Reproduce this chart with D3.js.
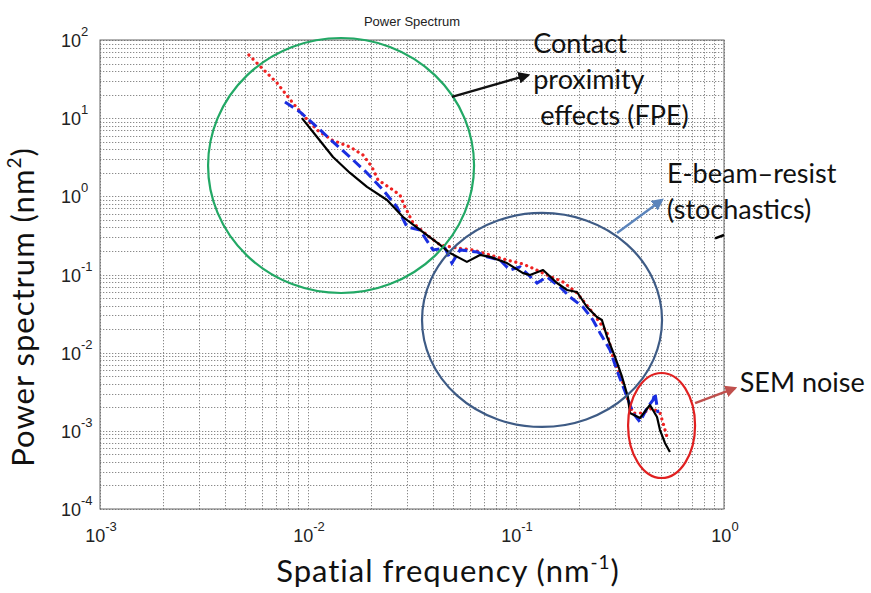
<!DOCTYPE html>
<html lang="en">
<head>
<meta charset="UTF-8">
<title>Power Spectrum</title>
<script src="https://d3js.org/d3.v7.min.js"></script>
<style>
    body { margin: 0; background: white; }
    svg { display: block; }
    .tick-label { font-family: Arial, "Liberation Sans", sans-serif; fill: #222; }
    .big { font-family: Lato, "Open Sans", sans-serif; fill: #111; }
</style>
</head>
<body>
<div id="chart"></div>
<script>
// values: [spatial frequency (1/nm), power (nm^2)]
const redSeries = [
    [0.0052, 64.3], [0.0060, 43.8], [0.0071, 28.2], [0.00838, 16.1], [0.00946, 11.0],
    [0.01105, 7.06], [0.01304, 5.26], [0.01592, 4.28], [0.01837, 3.38], [0.02031, 2.37],
    [0.02171, 1.62], [0.02479, 1.28], [0.02768, 1.04], [0.02927, 0.731], [0.03199, 0.456],
    [0.03733, 0.320], [0.04315, 0.239], [0.0520, 0.218], [0.0621, 0.206], [0.0750, 0.178],
    [0.0905, 0.153], [0.1045, 0.140], [0.1167, 0.125], [0.1409, 0.0986], [0.1683, 0.0802],
    [0.1964, 0.0580], [0.2344, 0.0322], [0.2741, 0.0179], [0.2924, 0.00881], [0.3236, 0.00448],
    [0.3451, 0.00248], [0.3655, 0.00169], [0.4083, 0.00169], [0.4508, 0.00196], [0.4920, 0.00169],
    [0.5093, 0.00126], [0.5321, 0.000834]
];
const blueSeries = [
    [0.00775, 16.1], [0.00915, 12.0], [0.01105, 7.71], [0.01319, 4.96], [0.01592, 3.18],
    [0.01922, 1.99], [0.02294, 1.21], [0.02679, 0.731], [0.02992, 0.406], [0.03454, 0.371],
    [0.0399, 0.206], [0.0456, 0.218], [0.0492, 0.140], [0.0538, 0.206], [0.0650, 0.194],
    [0.0726, 0.168], [0.0838, 0.153], [0.0935, 0.114], [0.1045, 0.125], [0.1262, 0.0778],
    [0.1409, 0.0929], [0.1628, 0.0692], [0.1820, 0.0515], [0.2099, 0.0384], [0.2344, 0.0262],
    [0.2535, 0.0179], [0.2831, 0.0108], [0.3090, 0.00550], [0.3420, 0.00271], [0.3655, 0.00169],
    [0.3945, 0.00130], [0.4266, 0.00196], [0.4560, 0.00248], [0.4656, 0.00305], [0.4819, 0.00169]
];
const blackSeries = [
    [0.00935, 10.0], [0.01105, 5.74], [0.01319, 3.18], [0.01592, 1.99], [0.01922, 1.32],
    [0.02399, 0.898], [0.02864, 0.544], [0.03454, 0.371], [0.04315, 0.239], [0.04819, 0.188],
    [0.05808, 0.145], [0.06714, 0.178], [0.0750, 0.168], [0.0905, 0.140], [0.1081, 0.104],
    [0.1167, 0.0986], [0.1349, 0.114], [0.1574, 0.0778], [0.1758, 0.0634], [0.1964, 0.0597],
    [0.2193, 0.0384], [0.2449, 0.0286], [0.2588, 0.0262], [0.2741, 0.0159], [0.2992, 0.00881],
    [0.3236, 0.00489], [0.3451, 0.00271], [0.3532, 0.00169], [0.3945, 0.00146], [0.4406, 0.00214],
    [0.4764, 0.00150], [0.4920, 0.00103], [0.5200, 0.000700], [0.5495, 0.000536]
];
const xDecades = [-3, -2, -1, 0];
const yDecades = [-4, -3, -2, -1, 0, 1, 2];

// annotation ellipses: centre in data units, radii in px
const ellipses = [
    { cx: 0.01442, cy: 2.48, rx: 133, ry: 127.5, color: "#22a865" },
    { cx: 0.1334, cy: 0.0262, rx: 120, ry: 107, color: "#3e5b85" },
    { cx: 0.501, cy: 0.00117, rx: 33.5, ry: 52.5, color: "#e02020" }
];
const arrows = [
    { from: [0.0492, 18.7], to: [0.1143, 35.6], color: "#111" },
    { from: [0.306, 0.340], to: [0.503, 0.898], color: "#5b84bb" },
    { from: [0.726, 0.00227], to: [1.13, 0.00353], color: "#c0504d" }
];
const notes = [
    { x: 0.121, y: 68, lines: ["Contact", "proximity", " effects (FPE)"] },
    { x: 0.532, y: 1.48, lines: ["E-beam\u2013resist", "(stochastics)"] },
    { x: 1.19, y: 0.00314, lines: ["SEM noise"] }
];

const width = 871, height = 593;
const margin = { top: 40, right: 147, bottom: 84, left: 100 };

const svg = d3.select("#chart").append("svg")
    .attr("width", width)
    .attr("height", height);

const x = d3.scaleLog().domain([1e-3, 1]).range([margin.left, width - margin.right]);
const y = d3.scaleLog().domain([1e-4, 1e2]).range([height - margin.bottom, margin.top]);

// grid (major + minor, dotted like matlab)
const xMinor = [], yMinor = [];
xDecades.slice(0, -1).forEach(e => { for (let k = 2; k <= 9; k++) xMinor.push(k * Math.pow(10, e)); });
yDecades.slice(0, -1).forEach(e => { for (let k = 2; k <= 9; k++) yMinor.push(k * Math.pow(10, e)); });
const xAll = xDecades.map(e => Math.pow(10, e)).concat(xMinor);
const yAll = yDecades.map(e => Math.pow(10, e)).concat(yMinor);

const grid = svg.append("g").attr("stroke", "#8a8a8a").attr("stroke-width", 1)
    .attr("stroke-dasharray", "1.3,1.7");
grid.selectAll(".gx").data(xAll).enter().append("line")
    .attr("x1", d => Math.round(x(d)) + 0.5).attr("x2", d => Math.round(x(d)) + 0.5)
    .attr("y1", y(1e2)).attr("y2", y(1e-4));
grid.selectAll(".gy").data(yAll).enter().append("line")
    .attr("y1", d => Math.round(y(d)) + 0.5).attr("y2", d => Math.round(y(d)) + 0.5)
    .attr("x1", x(1e-3)).attr("x2", x(1));

// frame
svg.append("rect")
    .attr("x", x(1e-3)).attr("y", y(1e2))
    .attr("width", x(1) - x(1e-3)).attr("height", y(1e-4) - y(1e2))
    .attr("fill", "none").attr("stroke", "#666").attr("stroke-width", 1);

// tick labels 10^n
function powLabel(sel, e) {
    sel.append("tspan").text("10");
    sel.append("tspan").attr("dy", -11).attr("font-size", 13).text(e);
}
xDecades.forEach(e => {
    const t = svg.append("text").attr("class", "tick-label")
        .attr("x", x(Math.pow(10, e)) + 1).attr("y", 542)
        .attr("text-anchor", "middle").attr("font-size", 18);
    powLabel(t, e);
});
yDecades.forEach(e => {
    const t = svg.append("text").attr("class", "tick-label")
        .attr("x", 61).attr("y", y(Math.pow(10, e)) + 7)
        .attr("font-size", 18);
    powLabel(t, e);
});

// title and axis titles
svg.append("text").attr("class", "tick-label")
    .attr("x", 412).attr("y", 26).attr("text-anchor", "middle")
    .attr("font-size", 13).text("Power Spectrum");

const xt = svg.append("text").attr("class", "big")
    .attr("x", 448).attr("y", 582).attr("text-anchor", "middle")
    .attr("font-size", 31).attr("letter-spacing", 1);
xt.append("tspan").text("Spatial frequency (nm");
xt.append("tspan").attr("dy", -13).attr("font-size", 19).text("-1");
xt.append("tspan").attr("dy", 13).text(")");

const yt = svg.append("text").attr("class", "big")
    .attr("transform", `translate(34,${307}) rotate(-90)`)
    .attr("text-anchor", "middle")
    .attr("font-size", 31).attr("letter-spacing", 1);
yt.append("tspan").text("Power spectrum (nm");
yt.append("tspan").attr("dy", -13).attr("font-size", 19).text("2");
yt.append("tspan").attr("dy", 13).text(")");

// curves
const line = d3.line().x(d => x(d[0])).y(d => y(d[1]));
svg.append("path").datum(redSeries).attr("d", line)
    .attr("fill", "none").attr("stroke", "#ee2222").attr("stroke-width", 3.2)
    .attr("stroke-linecap", "round").attr("stroke-dasharray", "0.1,5.6");
svg.append("path").datum(blueSeries).attr("d", line)
    .attr("fill", "none").attr("stroke", "#1a2ee0").attr("stroke-width", 3)
    .attr("stroke-dasharray", "10,5");
svg.append("path").datum(blackSeries).attr("d", line)
    .attr("fill", "none").attr("stroke", "#000").attr("stroke-width", 2.2)
    .attr("stroke-linejoin", "round");

// annotations
svg.selectAll(".ell").data(ellipses).enter().append("ellipse")
    .attr("cx", d => x(d.cx)).attr("cy", d => y(d.cy))
    .attr("rx", d => d.rx).attr("ry", d => d.ry)
    .attr("fill", "none").attr("stroke", d => d.color).attr("stroke-width", 2.2);

const defs = svg.append("defs");
arrows.forEach((a, i) => {
    defs.append("marker").attr("id", "ah" + i)
        .attr("viewBox", "0 0 10 10").attr("refX", 8).attr("refY", 5)
        .attr("markerWidth", 5).attr("markerHeight", 5)
        .attr("orient", "auto")
        .append("path").attr("d", "M0,0 L10,5 L0,10 z").attr("fill", a.color);
    svg.append("line")
        .attr("x1", x(a.from[0])).attr("y1", y(a.from[1]))
        .attr("x2", x(a.to[0])).attr("y2", y(a.to[1]))
        .attr("stroke", a.color).attr("stroke-width", 2.4)
        .attr("marker-end", `url(#ah${i})`);
});

// stray black stroke at the right edge
svg.append("line")
    .attr("x1", x(0.906)).attr("y1", y(0.29))
    .attr("x2", x(1.0)).attr("y2", y(0.32))
    .attr("stroke", "#000").attr("stroke-width", 2.5);

notes.forEach(n => {
    const t = svg.append("text").attr("class", "big")
        .attr("x", x(n.x)).attr("y", y(n.y)).attr("font-size", 27)
        .attr("xml:space", "preserve");
    n.lines.forEach((l, i) => {
        t.append("tspan").attr("x", x(n.x)).attr("dy", i === 0 ? 0 : 36).text(l);
    });
});
</script>
</body>
</html>
